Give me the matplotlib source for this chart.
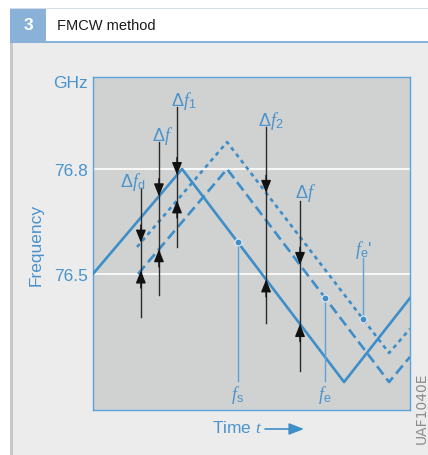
import numpy as np
import matplotlib.pyplot as plt
from matplotlib.patches import Rectangle, FancyArrowPatch

# FMCW method - transmitted / received chirps

plt.rcParams['font.family'] = ['Liberation Sans', 'DejaVu Sans']
plt.rcParams['mathtext.fontset'] = 'custom'
plt.rcParams['mathtext.rm'] = 'Liberation Sans'
plt.rcParams['mathtext.it'] = 'Liberation Serif:italic'
plt.rcParams['lines.scale_dashes'] = False

blue = '#3d8ec9'
tblue = '#4a93cb'
lblue = '#5ea3d8'

# vertices of the three ramps (time in arbitrary units, frequency in GHz)
t_tx = [0.0, 28.1, 79.2, 100.0]                 # transmitted signal f_s
f_tx = [76.5, 76.8, 76.191, 76.431]
t_rx = [14.2, 42.3, 93.4, 100.0]                # received, delayed f_e
f_rx = [76.5, 76.8, 76.191, 76.263]
t_rxd = [13.9, 42.3, 93.4, 100.0]               # received, delayed + doppler f_e'
f_rxd = [76.577, 76.877, 76.274, 76.343]

yticks = [76.5, 76.8]
ytick_labels = ['76.5', '76.8']

curves = {'tx': (t_tx, f_tx), 'rx': (t_rx, f_rx), 'rxd': (t_rxd, f_rxd)}

def f_at(name, t):
    tt, ff = curves[name]
    return np.interp(t, tt, ff)

# arrows: time, shaft top, shaft bottom, upper curve, lower curve, label, label pos
arrows = [
    (15.1, 76.746, 76.377, 'rxd', 'rx', r'$\Delta f_{\mathrm{d}}$', (12.6, 76.766)),
    (20.8, 76.877, 76.440, 'tx', 'rx', r'$\Delta f$', (21.8, 76.897)),
    (26.5, 76.977, 76.577, 'tx', 'rxd', r'$\Delta f_{\mathrm{1}}$', (28.7, 76.997)),
    (54.6, 76.920, 76.360, 'rxd', 'tx', r'$\Delta f_{\mathrm{2}}$', (56.2, 76.940)),
    (65.3, 76.709, 76.223, 'rx', 'tx', r'$\Delta f$', (66.9, 76.734)),
]

# marked points: curve, time, leader end, label, label pos
marks = [
    ('tx', 45.7, 76.194, r'$f_{\mathrm{s}}$', 76.157),
    ('rx', 73.2, 76.194, r'$f_{\mathrm{e}}$', 76.157),
    ('rxd', 85.2, 76.546, r"$f_{\mathrm{e}}$'", 76.571),
]

W, H = 428, 456
fig = plt.figure(figsize=(W/100, H/100), dpi=100)
fig.patch.set_facecolor('white')

def frect(x0, y0, x1, y1, **kw):
    fig.patches.append(Rectangle((x0/W, 1-y1/H), (x1-x0)/W, (y1-y0)/H,
                                 transform=fig.transFigure, zorder=-10, **kw))

# frame of the figure panel
frect(10, 44, 428, 456, facecolor='#ececec', edgecolor='none')
frect(10, 44, 13, 456, facecolor='#c8c8c8', edgecolor='none')
frect(10, 9, 428, 10, facecolor='#d3dde8', edgecolor='none')
frect(46, 10, 428, 42, facecolor='white', edgecolor='none')
frect(10, 10, 46, 42, facecolor='#8ab1d7', edgecolor='none')
frect(10, 42, 428, 44, facecolor='#8ab1d7', edgecolor='none')
fig.text(28/W, 1-26/H, '3', color='white', fontsize=12.5, fontweight='bold',
         ha='center', va='center')
fig.text(57/W, 1-26/H, 'FMCW method', color='#1a1a1a', fontsize=10.5,
         ha='left', va='center')

ax = fig.add_axes([93/W, 1-411/H, 317/W, 333/H])
ax.set_facecolor('#d0d1d1')
ax.set_xlim(0, 100)
ax.set_ylim(76.111, 77.063)
for s in ax.spines.values():
    s.set_color(lblue)
    s.set_linewidth(1.0)
ax.set_xticks([])
ax.set_yticks(yticks, ytick_labels)
ax.tick_params(axis='y', length=0, pad=3.5, labelsize=12.5, labelcolor=tblue)
ax.grid(axis='y', color='white', lw=1.2)
ax.set_axisbelow(True)
ax.text(-0.016, 0.983, 'GHz', transform=ax.transAxes, ha='right', va='center',
        fontsize=12.5, color=tblue)
ax.set_ylabel('Frequency', fontsize=12.5, color=tblue, labelpad=7.5)

# ramps
ax.plot(t_rxd, f_rxd, color=blue, lw=1.9, dashes=(2.9, 2.9), dash_capstyle='butt', zorder=3)
ax.plot(t_rx, f_rx, color=blue, lw=1.9, dashes=(7.5, 3.6), dash_capstyle='butt', zorder=3)
ax.plot(t_tx, f_tx, color=blue, lw=1.9, zorder=4)

# difference arrows
for t, top, bot, up_c, lo_c, lab, lpos in arrows:
    ax.plot([t, t], [top, bot], color='#2a2a2a', lw=1.0, zorder=5)
    fu = f_at(up_c, t)
    fl = f_at(lo_c, t)
    ax.annotate('', xy=(t, fu), xytext=(t, fu + 0.05), zorder=6,
                arrowprops=dict(arrowstyle='-|>,head_length=0.75,head_width=0.3',
                                color='#111111', lw=1.0, shrinkA=0, shrinkB=0))
    ax.annotate('', xy=(t, fl), xytext=(t, fl - 0.05), zorder=6,
                arrowprops=dict(arrowstyle='-|>,head_length=0.75,head_width=0.3',
                                color='#111111', lw=1.0, shrinkA=0, shrinkB=0))
    ax.text(lpos[0], lpos[1], lab, fontsize=13, color=tblue, ha='center', va='center',
            zorder=7)

# marked frequencies with leader lines
for c, t, fend, lab, fl in marks:
    fp = f_at(c, t)
    ax.plot([t, t], [fp, fend], color=lblue, lw=1.0, zorder=5)
    ax.plot(t, fp, 'o', ms=5, mfc=blue, mec='#dce8f2', mew=0.9, zorder=6)
    ax.text(t, fl, lab, fontsize=13, color=tblue, ha='center', va='center', zorder=7)

# time axis label with arrow
fig.text(212/W, 1-428/H, r'Time $t$', fontsize=12.5, color=tblue, ha='left', va='center')
fig.add_artist(FancyArrowPatch(
    (265/W, 1-430/H), (304/W, 1-430/H), transform=fig.transFigure,
    arrowstyle='-|>,head_length=9,head_width=3.5', color=blue, lw=1.2,
    shrinkA=0, shrinkB=0))

fig.text(422/W, 1-373/H, 'UAF1040E', rotation=90, fontsize=10, color='#8c8c8c',
         ha='center', va='top', family='DejaVu Sans')

fig.savefig('out.png', dpi=100)
